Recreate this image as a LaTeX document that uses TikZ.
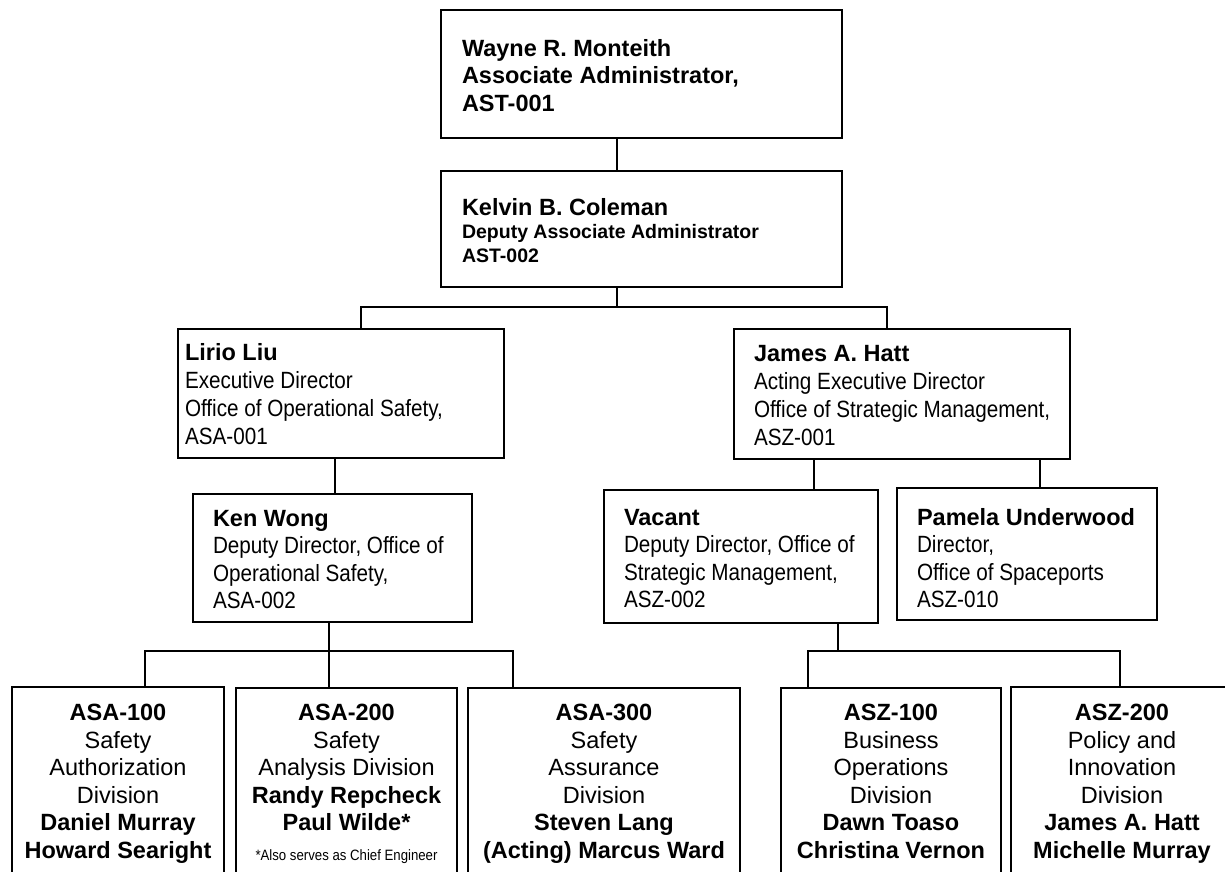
\documentclass[tikz,border=0pt]{standalone}
\usepackage{fontspec}
\setmainfont{Liberation Sans}
\newfontfamily\nrw[FakeStretch=0.88]{Liberation Sans}
\usetikzlibrary{calc}
\begin{document}
\begin{tikzpicture}[x=1pt,y=-1pt,
  box/.style={draw=black, line width=2pt, fill=white, inner sep=0pt, outer sep=0pt},
  conn/.style={draw=black, line width=2pt},
  txt/.style={inner sep=0pt, outer sep=0pt, font=\fontsize{23.5}{27.5}\selectfont, align=left, anchor=north west},
  mid/.style={txt, font=\fontsize{23.5}{28}\selectfont},
  small/.style={txt, font=\fontsize{19.5}{24}\selectfont\bfseries},
  div/.style={inner sep=0pt, outer sep=0pt, font=\fontsize{23.5}{27.6}\selectfont, align=center, anchor=north},
  note/.style={inner sep=0pt, outer sep=0pt, font=\nrw\fontsize{15}{18}\selectfont, anchor=base}]
\useasboundingbox (0,0) rectangle (1225,871);
\fill[white] (0,0) rectangle (1225,871);
\clip (0,0) rectangle (1225,871);

% boxes
\node[box, minimum width=401pt, minimum height=128pt] (wayne) at (641.5,74) {};
\node[box, minimum width=401pt, minimum height=116pt] (kelvin) at (641.5,229) {};
\node[box, minimum width=326pt, minimum height=129pt] (lirio) at (341,393.5) {};
\node[box, minimum width=336pt, minimum height=130pt] (james) at (902,394) {};
\node[box, minimum width=279pt, minimum height=128pt] (ken) at (332.5,558) {};
\node[box, minimum width=274pt, minimum height=133pt] (vacant) at (741,556.5) {};
\node[box, minimum width=260pt, minimum height=132pt] (pamela) at (1027,554) {};
\node[box, minimum width=212pt, minimum height=213pt] (asa100) at (118,793.5) {};
\node[box, minimum width=221pt, minimum height=212pt] (asa200) at (346.5,794) {};
\node[box, minimum width=272pt, minimum height=212pt] (asa300) at (604,794) {};
\node[box, minimum width=220pt, minimum height=212pt] (asz100) at (891,794) {};
\node[box, minimum width=222pt, minimum height=213pt] (asz200) at (1122,793.5) {};

% texts
\node[txt, font=\fontsize{23.5}{27.5}\selectfont\bfseries] (wayne-t) at (462,37.2)
  {\strut Wayne R. Monteith\\Associate Administrator,\\AST-001};
\node[txt, font=\fontsize{23.5}{27.5}\selectfont\bfseries] (kelvin-t) at (462,196.2)
  {\strut Kelvin B. Coleman};
\node[small] (kelvin-s) at (462,221.2)
  {\strut Deputy Associate Administrator\\AST-002};
\node[mid] (lirio-t) at (185,340.8)
  {\strut\textbf{Lirio Liu}\\\nrw Executive Director\\\nrw Office of Operational Safety,\\\nrw ASA-001};
\node[mid] (james-t) at (754,341.8)
  {\strut\textbf{James A. Hatt}\\\nrw Acting Executive Director\\\nrw Office of Strategic Management,\\\nrw ASZ-001};
\node[txt] (ken-t) at (213,507.2)
  {\strut\textbf{Ken Wong}\\\nrw Deputy Director, Office of\\\nrw Operational Safety,\\\nrw ASA-002};
\node[txt] (vacant-t) at (624,506.2)
  {\strut\textbf{Vacant}\\\nrw Deputy Director, Office of\\\nrw Strategic Management,\\\nrw ASZ-002};
\node[txt] (pamela-t) at (917,506.2)
  {\strut\textbf{Pamela Underwood}\\\nrw Director,\\\nrw Office of Spaceports\\\nrw ASZ-010};
\node[div] (asa100-t) at (118,701.1)
  {\strut\textbf{ASA-100}\\Safety\\Authorization\\Division\\\textbf{Daniel Murray}\\\textbf{Howard Searight}};
\node[div] (asa200-t) at (346.5,701.1)
  {\strut\textbf{ASA-200}\\Safety\\Analysis Division\\\textbf{Randy Repcheck}\\\textbf{Paul Wilde*}};
\node[note] (asa200-n) at (346.5,860.4) {*Also serves as Chief Engineer};
\node[div] (asa300-t) at (604,701.1)
  {\strut\textbf{ASA-300}\\Safety\\Assurance\\Division\\\textbf{Steven Lang}\\\textbf{(Acting) Marcus Ward}};
\node[div] (asz100-t) at (891,701.1)
  {\strut\textbf{ASZ-100}\\Business\\Operations\\Division\\\textbf{Dawn Toaso}\\\textbf{Christina Vernon}};
\node[div] (asz200-t) at (1122,701.1)
  {\strut\textbf{ASZ-200}\\Policy and\\Innovation\\Division\\\textbf{James A. Hatt}\\\textbf{Michelle Murray}};

% connector coordinates
\coordinate (c1) at (617,307);
\coordinate (b1l) at (361,307);
\coordinate (b1r) at (887,307);
\coordinate (xk) at (335,476);
\coordinate (xv) at (814,476);
\coordinate (xp) at (1040,476);
\coordinate (b2c) at (329,651);
\coordinate (b2l) at (145,651);
\coordinate (b2r) at (513,651);
\coordinate (b3c) at (838,651);
\coordinate (b3l) at (808,651);
\coordinate (b3r) at (1120,651);

% connectors
\draw[conn] (wayne.south -| c1) -- (kelvin.north -| c1);
\draw[conn] (kelvin.south -| c1) -- (c1);
\draw[conn] (lirio.north -| b1l) -- (b1l) -- (b1r) -- (james.north -| b1r);
\draw[conn] (lirio.south -| xk) -- (ken.north -| xk);
\draw[conn] (james.south -| xv) -- (vacant.north -| xv);
\draw[conn] (james.south -| xp) -- (pamela.north -| xp);
\draw[conn] (ken.south -| b2c) -- (b2c);
\draw[conn] (asa100.north -| b2l) -- (b2l) -- (b2r) -- (asa300.north -| b2r);
\draw[conn] (b2c) -- (asa200.north -| b2c);
\draw[conn] (vacant.south -| b3c) -- (b3c);
\draw[conn] (asz100.north -| b3l) -- (b3l) -- (b3r) -- (asz200.north -| b3r);
\end{tikzpicture}
\end{document}
